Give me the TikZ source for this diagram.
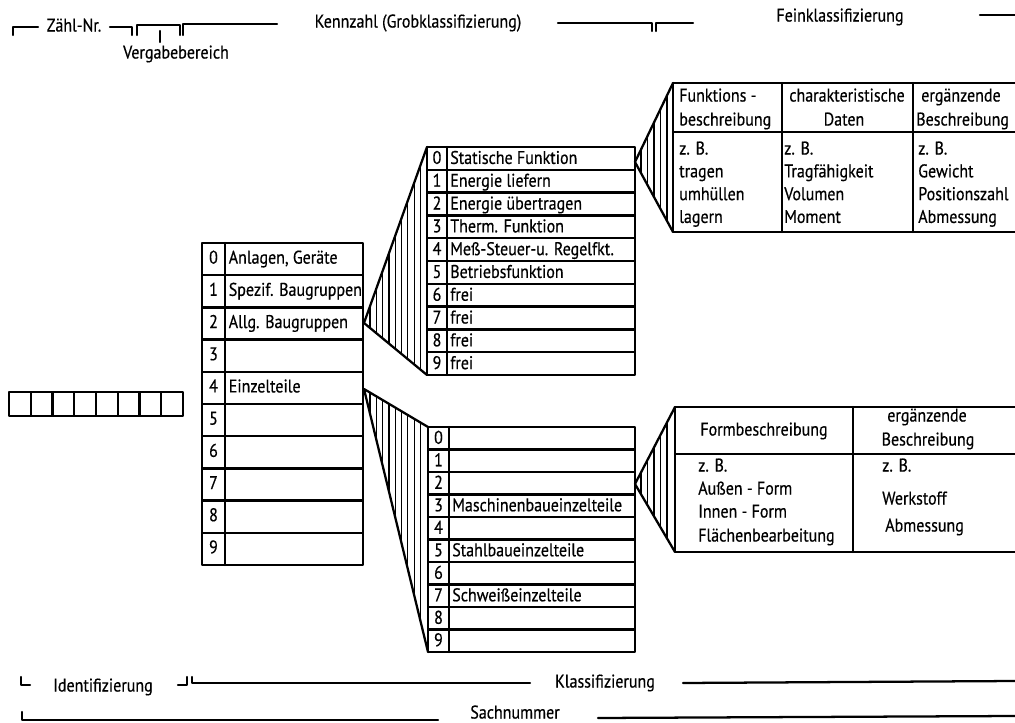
\documentclass[tikz,border=0pt]{standalone}
\usepackage{fontspec}
\setmainfont{PT Sans}[FakeStretch=0.87,FakeBold=0.5]
\begin{document}
\begin{tikzpicture}[x=0.75pt,y=-0.75pt,
  box/.style={line width=1.7pt, line cap=round, line join=round},
  hatchline/.style={line width=0.9pt},
  lbl/.style={inner sep=0pt, font=\fontsize{13.8}{15}\selectfont, anchor=west, text height=9.5pt, text depth=2.7pt},
  num/.style={lbl, anchor=center},
  ctr/.style={lbl, anchor=center}]
\useasboundingbox (0,0) rectangle (1015,723);

% ---------- header ----------
\draw[box] (13,35) -- (13,27) -- (38,27);
\node[ctr] (zaehl) at (74,27) {Zähl-Nr.};
\draw[box] (110,27) -- (132,27) -- (132,35);
\draw[box] (137,35) -- (137,25) -- (180,25) -- (180,35);
\draw[box] (160,31) -- (160,42);
\node[ctr] (verg) at (176,54) {Vergabebereich};
\draw[box] (183,35) -- (183,24) -- (277,24);
\node[ctr] (kenn) at (418,23) {Kennzahl (Grobklassifizierung)};
\draw[box] (558,23) -- (652,23) -- (652,31);
\draw[box] (656,31) -- (656,23) -- (693,23);
\node[ctr] (fein) at (840,17) {Feinklassifizierung};
\draw[box] (980,15) -- (1016,15);

% ---------- eight boxes ----------
\foreach \i in {0,...,7}{
  \draw[box] ({9+21.75*\i},392) rectangle ({9+21.75*(\i+1)},416);
}

% ---------- left table ----------
\foreach \t [count=\i from 0] in {{Anlagen, Geräte},{Spezif. Baugruppen},{Allg. Baugruppen},{},{Einzelteile},{},{},{},{},{}}{
  \pgfmathsetmacro\ya{243+32.2*\i}
  \pgfmathsetmacro\yb{243+32.2*(\i+1)}
  \draw[box] (202,\ya) rectangle (363,\yb);
  \draw[box] (225,\ya) -- (225,\yb);
  \node[num] (Ln\i) at (213.5,{(\ya+\yb)/2}) {\i};
  \node[lbl] (Lt\i) at (228.5,{(\ya+\yb)/2}) {\t};
}

% ---------- upper middle table ----------
\foreach \t [count=\i from 0] in {{Statische Funktion},{Energie liefern},{Energie übertragen},{Therm. Funktion},{Meß-Steuer-u. Regelfkt.},{Betriebsfunktion},{frei},{frei},{frei},{frei}}{
  \pgfmathsetmacro\ya{147+22.8*\i}
  \pgfmathsetmacro\yb{147+22.8*(\i+1)}
  \draw[box] (427,\ya) rectangle (635,\yb);
  \draw[box] (447,\ya) -- (447,\yb);
  \node[num] (Mn\i) at (437,{(\ya+\yb)/2+1}) {\i};
  \node[lbl] (Mt\i) at (450,{(\ya+\yb)/2+1}) {\t};
}

% ---------- lower middle table ----------
\foreach \t [count=\i from 0] in {{},{},{},{Maschinenbaueinzelteile},{},{Stahlbaueinzelteile},{},{Schweißeinzelteile},{},{}}{
  \pgfmathsetmacro\ya{427+22.5*\i}
  \pgfmathsetmacro\yb{427+22.5*(\i+1)}
  \draw[box] (428,\ya) rectangle (635,\yb);
  \draw[box] (449,\ya) -- (449,\yb);
  \node[num] (Bn\i) at (438.5,{(\ya+\yb)/2+1}) {\i};
  \node[lbl] (Bt\i) at (452,{(\ya+\yb)/2+1}) {\t};
}

% ---------- fans ----------
\coordinate (fa1) at (364,323);
\coordinate (fa1t) at (427,147);
\coordinate (fa1b) at (427,375);
\begin{scope}
  \clip (fa1) -- (fa1t) -- (fa1b) -- cycle;
  \foreach \x in {370,376.3,...,425}{\draw[hatchline] (\x,140) -- (\x,380);}
\end{scope}
\draw[box] (fa1t) -- (fa1) -- (fa1b);

\coordinate (fa2) at (364,389);
\coordinate (fa2t) at (428,427);
\coordinate (fa2b) at (428,652);
\begin{scope}
  \clip (fa2) -- (fa2t) -- (fa2b) -- cycle;
  \foreach \x in {370,376.3,...,425}{\draw[hatchline] (\x,380) -- (\x,660);}
\end{scope}
\draw[box] (fa2t) -- (fa2) -- (fa2b);

\coordinate (fa3) at (635,162);
\coordinate (fa3t) at (673,83);
\coordinate (fa3b) at (673,232);
\begin{scope}
  \clip (fa3) -- (fa3t) -- (fa3b) -- cycle;
  \foreach \x in {641,647.5,...,671}{\draw[hatchline] (\x,80) -- (\x,240);}
\end{scope}
\draw[box] (fa3t) -- (fa3) -- (fa3b);

\coordinate (fa4) at (635,484);
\coordinate (fa4t) at (675,407);
\coordinate (fa4b) at (675,552);
\begin{scope}
  \clip (fa4) -- (fa4t) -- (fa4b) -- cycle;
  \foreach \x in {641,647.5,...,673}{\draw[hatchline] (\x,400) -- (\x,560);}
\end{scope}
\draw[box] (fa4t) -- (fa4) -- (fa4b);

% ---------- upper right table ----------
\draw[box] (673,83) rectangle (1022,232);
\draw[box] (673,132) -- (1022,132);
\draw[box] (782,83) -- (782,232);
\draw[box] (913,83) -- (913,232);
\node[lbl] (h11) at (679,97) {Funktions -};
\node[lbl] (h12) at (679,121) {beschreibung};
\node[ctr] (h21) at (847,97) {charakteristische};
\node[ctr] (h22) at (844,121) {Daten};
\node[lbl] (h31) at (921,97) {ergänzende};
\node[lbl] (h32) at (916,121) {Beschreibung};
\foreach \a/\b/\c [count=\k from 0] in {z. B./z. B./z. B.,tragen/Tragfähigkeit/Gewicht,umhüllen/Volumen/Positionszahl,lagern/Moment/Abmessung}{
  \pgfmathsetmacro\yy{150+22.8*\k}
  \node[lbl] (r1c\k) at (679,\yy) {\a};
  \node[lbl] (r2c\k) at (784,\yy) {\b};
  \node[lbl] (r3c\k) at (918,\yy) {\c};
}

% ---------- lower right table ----------
\draw[box] (675,407) rectangle (1022,552);
\draw[box] (675,454) -- (1022,454);
\draw[box] (853,407) -- (853,552);
\node[ctr] (g11) at (764,431) {Formbeschreibung};
\node[ctr] (g21) at (927,417) {ergänzende};
\node[ctr] (g22) at (928,441) {Beschreibung};
\node[lbl] (f1) at (698,467) {z. B.};
\node[lbl] (f2) at (698,490) {Außen - Form};
\node[lbl] (f3) at (698,513) {Innen - Form};
\node[lbl] (f4) at (698,537) {Flächenbearbeitung};
\node[lbl] (e1) at (882,467) {z. B.};
\node[lbl] (e2) at (882,500) {Werkstoff};
\node[lbl] (e3) at (885,527) {Abmessung};

% ---------- footer ----------
\draw[box] (21,677) -- (21,685) -- (30,685);
\node[ctr] (ident) at (103,687) {Identifizierung};
\draw[box] (178,685) -- (187,685) -- (187,677);
\draw[box] (192,677) -- (192,683) -- (530,683);
\node[ctr] (klass) at (605,683) {Klassifizierung};
\draw[box] (683,683) -- (1016,681);
\draw[box] (22,712) -- (22,720) -- (438,720);
\node[ctr] (sach) at (515,714) {Sachnummer};
\draw[box] (598,718) -- (1016,716);
\end{tikzpicture}
\end{document}
